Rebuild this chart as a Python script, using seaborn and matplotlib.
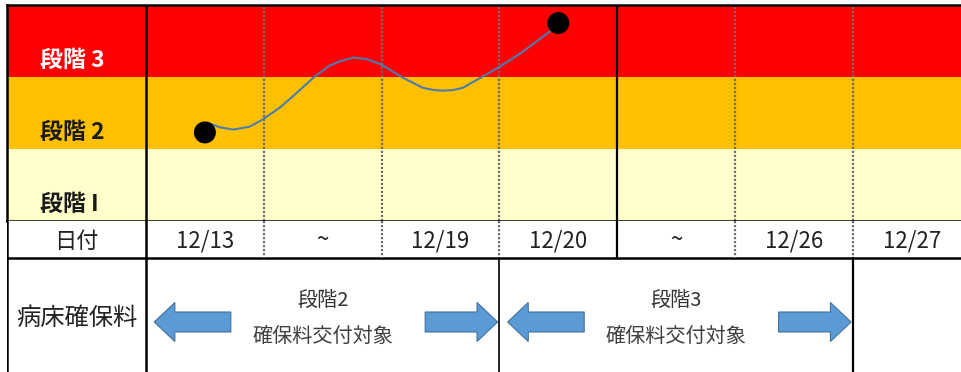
import matplotlib
matplotlib.use("Agg")
import matplotlib.pyplot as plt
import matplotlib.patches as mpatches
import seaborn as sns
import pandas as pd

# --- data ---
date_labels = ["12/13", "~", "12/19", "12/20", "~", "12/26", "12/27"]
stage_levels = [1, 2, 3]
stage_names = ["段階 I", "段階 2", "段階 3"]
stage_colors = ["#FFFFCC", "#FFC000", "#FF0000"]
stage_text_colors = ["#1a1a1a", "#1a1a1a", "#FFFFFF"]

# stage trend curve (x = column position, y = stage level)
curve_x = [0.53, 0.63, 0.74, 0.88, 0.99, 1.14, 1.28, 1.42, 1.56, 1.65, 1.76,
           1.87, 1.99, 2.18, 2.35, 2.44, 2.52, 2.61, 2.69, 2.99, 3.18, 3.46]
curve_y = [1.86, 1.80, 1.77, 1.81, 1.91, 2.08, 2.28, 2.49, 2.66, 2.72, 2.77,
           2.75, 2.68, 2.49, 2.35, 2.32, 2.31, 2.32, 2.35, 2.63, 2.83, 3.17]
marker_x = [0.5, 3.5]
marker_y = [1.73, 3.25]

payment_stages = ["段階2", "段階3"]
payment_spans = [(0, 3), (3, 6)]

plt.rcParams['font.family'] = ['Noto Sans CJK JP', 'DejaVu Sans']

W, H = 962, 372
fig = plt.figure(figsize=(W / 100, H / 100), dpi=100)
fig.patch.set_facecolor("white")

x_left = (7 - 146) / 117.8
x_right = (962 - 146) / 117.8
dot_kw = dict(color="#6f6f6f", lw=1.6, ls=(0, (1, 0.8)))

# ---------------- top chart ----------------
ax = fig.add_axes([7 / W, (H - 221) / H, (W - 7) / W, 216 / H])
ax.set_xlim(x_left, x_right)
ax.set_ylim(0.5, 3.5)
for lvl, col in zip(stage_levels, stage_colors):
    ax.axhspan(lvl - 0.5, lvl + 0.5, color=col, zorder=0, lw=0)
for lvl, name, tc in zip(stage_levels, stage_names, stage_text_colors):
    ax.text(-0.9, lvl - 0.27, name, color=tc, fontsize=16.5, fontweight="bold",
            ha="left", va="center")

for i in range(1, 7):
    if i == 4:
        ax.axvline(i, color="black", lw=1.6, zorder=2)
    else:
        ax.axvline(i, zorder=2, **dot_kw)
ax.axvline(0, color="black", lw=1.8, zorder=2)

curve = pd.DataFrame({"x": curve_x, "y": curve_y})
sns.lineplot(data=curve, x="x", y="y", ax=ax, color="#4A7DB0", lw=1.5,
             sort=False, zorder=3)
marks = pd.DataFrame({"x": marker_x, "y": marker_y})
sns.scatterplot(data=marks, x="x", y="y", ax=ax, color="black", s=250,
                edgecolor="none", zorder=4)

ax.set_xticks([])
ax.set_yticks([])
ax.set_xlabel("")
ax.set_ylabel("")
for side in ["top", "left", "bottom"]:
    ax.spines[side].set_linewidth(1.8)
    ax.spines[side].set_color("black")
ax.spines["right"].set_visible(False)

# ---------------- table ----------------
tb = fig.add_axes([7 / W, 0, (W - 7) / W, (H - 221) / H])
tb.set_xlim(x_left, x_right)
tb.set_ylim(372, 221)
tb.set_facecolor("white")
tb.set_xticks([])
tb.set_yticks([])
for s in tb.spines.values():
    s.set_visible(False)
tb.plot([x_left, x_left], [221, 372], color="black", lw=1.8)
tb.axhline(258, color="black", lw=1.8)

# date row
for i in range(1, 7):
    if i == 4:
        tb.plot([i, i], [221, 258], color="black", lw=1.6)
    else:
        tb.plot([i, i], [221, 258], **dot_kw)
tb.plot([0, 0], [221, 372], color="black", lw=1.8)
tb.text(x_left / 2, 241, "日付", fontsize=16, ha="center", va="center",
        color="#222222")
for i, lab in enumerate(date_labels):
    tb.text(i + 0.5, 241, lab, fontsize=16, ha="center", va="center",
            color="#222222")

# payment row
tb.plot([3, 3], [258, 372], color="black", lw=1.2)
tb.plot([6, 6], [258, 372], color="black", lw=1.6)
tb.text(x_left / 2, 318, "病床確保料", fontsize=17.5, ha="center",
        va="center", color="#222222")

arrow_kw = dict(width=20, head_width=39, length_includes_head=True,
                facecolor="#5B9BD5", edgecolor="#41719C", lw=0.8, zorder=3)
for name, (a, b) in zip(payment_stages, payment_spans):
    mid = (a + b) / 2
    tb.text(mid, 300, name, fontsize=14.5, ha="center", va="center",
            color="#333333")
    tb.text(mid, 336, "確保料交付対象", fontsize=14.5, ha="center",
            va="center", color="#404040")
    # left arrow
    tb.add_patch(mpatches.FancyArrow(a + 0.72, 322, -0.65, 0,
                                     head_length=0.175, **arrow_kw))
    # right arrow
    tb.add_patch(mpatches.FancyArrow(b - 0.63, 322, 0.615, 0,
                                     head_length=0.175, **arrow_kw))

fig.savefig("out.png", dpi=100)
